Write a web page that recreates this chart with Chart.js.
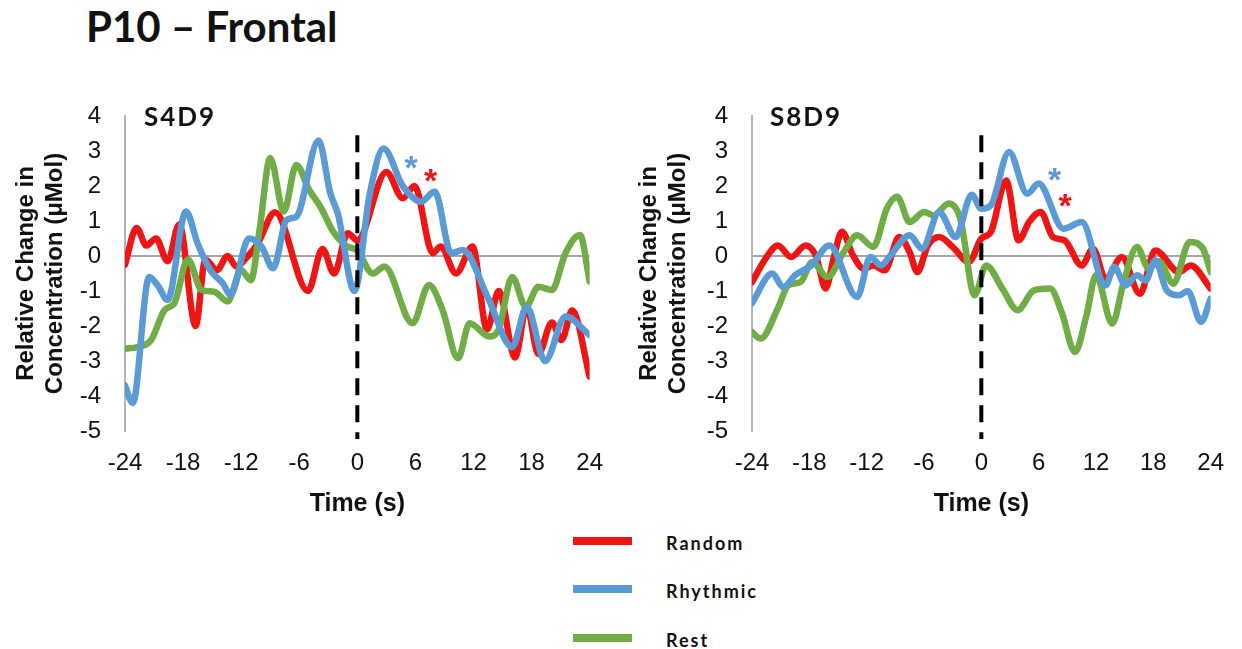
<!DOCTYPE html>
<html>
<head>
<meta charset="utf-8">
<title>P10 – Frontal</title>
<script src="https://cdn.jsdelivr.net/npm/chart.js@4.4.1/dist/chart.umd.min.js"></script>
<style>
  html, body { margin: 0; padding: 0; background: #fff; }
  #page { position: relative; width: 1242px; height: 649px; overflow: hidden; background: #fff; }
  #page canvas { position: absolute; top: 0; }
  #chartS4D9 { left: 0; }
  #chartS8D9 { left: 621px; }
  .heading { position: absolute; left: 86px; top: 5px; font: 700 42px Lato, sans-serif; line-height: 42px; color: #111; white-space: nowrap; }
  .channel { position: absolute; top: 103px; font: 700 26px Lato, sans-serif; line-height: 26px; letter-spacing: 2px; color: #111; white-space: nowrap; }
  .legend-row { position: absolute; left: 573px; height: 20px; }
  .legend-row .swatch { position: absolute; left: 0; width: 59px; height: 8px; }
  .legend-row .label { position: absolute; left: 93px; font: 700 18px Lato, sans-serif; line-height: 18px; letter-spacing: 2px; color: #111; white-space: nowrap; }
</style>
</head>
<body>
<div id="page">
  <div class="heading">P10 – Frontal</div>
  <canvas id="chartS4D9" width="621" height="530"></canvas>
  <canvas id="chartS8D9" width="621" height="530"></canvas>
  <div class="channel" style="left:144px">S4D9</div>
  <div class="channel" style="left:770px">S8D9</div>
  <div id="legend"></div>
</div>
<script>
// Time axis (s) and concentration axis (µMol) ticks
const timeTicks = [-24, -18, -12, -6, 0, 6, 12, 18, 24];
const valueTicks = [-5, -4, -3, -2, -1, 0, 1, 2, 3, 4];
const conditions = ['Random', 'Rhythmic', 'Rest'];

// Channel S4D9: [time (s), relative change (µMol)]
const s4d9Random = [[-24,-0.25],[-22.8,0.8],[-21.8,0.3],[-20.8,0.5],[-19.6,-0.15],[-18.4,0.9],[-16.7,-2.0],[-15.7,-0.1],[-14.5,-0.4],[-13.4,0.0],[-12.5,-0.3],[-11.3,0.0],[-10.3,0.35],[-8.5,1.25],[-5.1,-1.0],[-3.6,0.2],[-2.4,-0.5],[-1.0,0.65],[0,0.45],[3.0,2.4],[4.7,1.65],[5.9,2.0],[7.8,0.08],[8.6,0.27],[10.2,-0.5],[11.9,0.27],[13.4,-2.1],[14.6,-1.0],[16.3,-2.9],[17.5,-1.45],[18.7,-2.8],[20.1,-1.9],[21.1,-2.4],[22.2,-1.55],[24,-3.45]];
const s4d9Rhythmic = [[-24,-3.7],[-23.2,-4.2],[-21.5,-0.6],[-20.6,-0.85],[-19.6,-1.25],[-17.7,1.27],[-16.5,0.36],[-15.2,-0.4],[-13.9,-0.78],[-13.1,-1.1],[-11.2,0.5],[-9.9,0.27],[-8.7,-0.35],[-7.3,1.03],[-6.3,1.12],[-4.0,3.3],[-2.8,1.8],[-2.0,1.2],[-0.3,-1.0],[1.3,1.8],[2.7,3.07],[4.7,2.0],[6.6,1.55],[8.0,1.84],[9.7,0.08],[10.9,0.17],[13.5,-1.2],[16.0,-2.6],[17.5,-1.45],[19.4,-3.0],[21.5,-1.73],[24,-2.26]];
const s4d9Rest = [[-24,-2.65],[-22.7,-2.6],[-21.3,-2.4],[-19.9,-1.54],[-18.9,-1.35],[-17.5,-0.1],[-16.1,-0.97],[-14.8,-1.02],[-13.4,-1.3],[-12.0,-0.4],[-11.0,-0.69],[-10.1,0.74],[-9.0,2.8],[-7.6,1.27],[-6.3,2.6],[-5.0,1.9],[-3.8,1.4],[-2.5,0.7],[-1.2,0.3],[0,0.15],[1.6,-0.5],[2.8,-0.3],[5.7,-1.92],[7.4,-0.83],[8.8,-1.54],[10.4,-2.92],[11.6,-1.92],[13.6,-2.3],[14.6,-2.1],[16.0,-0.6],[17.4,-1.45],[18.7,-0.88],[20.1,-0.97],[21.5,0.08],[23.0,0.6],[24,-0.73]];

// Channel S8D9: [time (s), relative change (µMol)]
const s8d9Random = [[-24,-0.75],[-22.6,-0.08],[-21.3,0.3],[-19.9,-0.03],[-18.4,0.3],[-17.3,0.0],[-16.3,-0.93],[-15.4,0.0],[-14.6,0.69],[-13.4,0.0],[-12.3,-0.36],[-11.3,-0.27],[-10.1,-0.41],[-8.6,0.54],[-7.5,0.11],[-6.7,-0.46],[-5.6,0.3],[-4.4,0.54],[-3.0,0.26],[-1.3,-0.17],[0,0.5],[1.0,0.69],[2.6,2.16],[3.9,0.45],[5.0,0.97],[6.2,1.26],[7.5,0.54],[8.7,0.45],[10.5,-0.27],[11.7,0.21],[13.0,-0.65],[14.7,-0.03],[16.6,-1.08],[18.2,0.16],[20.7,-0.46],[21.9,-0.27],[24,-0.93]];
const s8d9Rhythmic = [[-24,-1.35],[-21.9,-0.5],[-20.7,-0.89],[-19.5,-0.55],[-17.8,-0.27],[-15.9,0.3],[-13.0,-1.17],[-11.6,-0.03],[-10.5,-0.27],[-9.5,0.02],[-7.5,0.59],[-6.2,0.21],[-4.4,1.26],[-2.7,0.54],[-1.0,1.75],[0,1.35],[1.0,1.45],[2.9,2.97],[4.8,1.78],[6.0,2.07],[8.6,0.78],[10.5,0.97],[13.0,-0.84],[13.9,-0.31],[15.1,-0.84],[16.3,-0.55],[17.2,-0.7],[18.2,-0.12],[19.4,-0.98],[20.7,-1.12],[21.6,-1.0],[23.0,-1.88],[24,-1.22]];
const s8d9Rest = [[-24,-2.17],[-23.1,-2.36],[-21.3,-1.5],[-20.2,-0.84],[-18.9,-0.74],[-17.7,-0.17],[-16.1,-0.6],[-14.4,0.11],[-13.0,0.59],[-11.3,0.26],[-9.9,1.35],[-8.8,1.69],[-7.5,0.97],[-6.0,1.26],[-5.0,1.16],[-3.4,1.5],[-2.2,1.07],[-0.7,-1.12],[0.5,-0.27],[2.2,-0.93],[3.8,-1.55],[5.5,-0.98],[7.2,-0.93],[8.4,-1.6],[9.8,-2.74],[11.0,-1.7],[12.0,-0.55],[13.7,-1.93],[14.9,-0.74],[16.3,0.26],[17.5,-0.36],[18.6,-0.15],[20.1,-0.79],[21.8,0.4],[23.2,0.21],[24,-0.46]];

// Significance markers: [time (s), value (µMol), condition]
const s4d9Significance = [[5.6, 2.66, 'Rhythmic'], [7.6, 2.31, 'Random']];
const s8d9Significance = [[7.7, 2.34, 'Rhythmic'], [8.8, 1.6, 'Random']];

const colors = { Random: '#EE1515', Rhythmic: '#5B9BD5', Rest: '#70AD47' };
const drawOrder = { Random: 2, Rest: 1, Rhythmic: 0 };
const tickFont = { family: "'Liberation Sans', Arial, sans-serif", size: 24 };
const titleFont = { family: "'Liberation Sans', Arial, sans-serif", size: 24, weight: 'bold', lineHeight: 1.2 };

// Dashed onset line at t = 0 and significance asterisks
const onsetPlugin = {
  id: 'onset',
  afterDatasetsDraw(chart, args, opts) {
    const { ctx, chartArea, scales: { x, y } } = chart;
    const px = x.getPixelForValue(0);
    ctx.save();
    ctx.strokeStyle = '#000';
    ctx.lineWidth = 4;
    ctx.setLineDash([17, 10]);
    ctx.beginPath();
    ctx.moveTo(px, y.getPixelForValue(opts.top));
    ctx.lineTo(px, chartArea.bottom + 8);
    ctx.stroke();
    ctx.setLineDash([]);
    ctx.font = "bold 34px 'Liberation Sans', Arial, sans-serif";
    ctx.textBaseline = 'alphabetic';
    for (const [t, v, cond] of opts.marks) {
      const m = ctx.measureText('*');
      const w = m.actualBoundingBoxRight + m.actualBoundingBoxLeft;
      const h = m.actualBoundingBoxAscent + m.actualBoundingBoxDescent;
      const cx = x.getPixelForValue(t), cy = y.getPixelForValue(v);
      ctx.fillStyle = colors[cond];
      ctx.fillText('*', cx - w / 2 + m.actualBoundingBoxLeft, cy + h / 2 - m.actualBoundingBoxDescent);
    }
    ctx.restore();
  }
};

function makeChart(id, series, marks, yWidth, padRight, titleOffset) {
  const datasets = conditions.map((cond, i) => ({
    label: cond,
    data: series[i].map(([t, v]) => ({ x: t, y: v })),
    borderColor: colors[cond],
    backgroundColor: colors[cond],
    borderWidth: 6.5,
    pointRadius: 0,
    cubicInterpolationMode: 'monotone',
    borderJoinStyle: 'round',
    borderCapStyle: 'round',
    fill: false,
    order: drawOrder[cond]
  }));
  return new Chart(document.getElementById(id), {
    type: 'line',
    data: { datasets },
    plugins: [onsetPlugin],
    options: {
      responsive: false,
      animation: false,
      events: [],
      layout: { padding: { top: 116, right: padRight, bottom: 0, left: 0 } },
      plugins: {
        legend: { display: false },
        tooltip: { enabled: false },
        onset: { top: 3.45, marks }
      },
      scales: {
        x: {
          type: 'linear',
          min: -24, max: 24,
          afterBuildTicks: (s) => { s.ticks = timeTicks.map(v => ({ value: v })); },
          afterFit: (s) => { s.height = 99; },
          grid: { display: false, drawTicks: false },
          border: { display: false },
          ticks: { font: tickFont, color: '#111', padding: 18, maxRotation: 0, autoSkip: false },
          title: { display: true, text: 'Time (s)', font: { ...titleFont, size: 25 }, color: '#111', padding: { top: 0, bottom: 11 } }
        },
        y: {
          type: 'linear',
          min: -5, max: 4,
          afterBuildTicks: (s) => { s.ticks = valueTicks.map(v => ({ value: v })); },
          afterFit: (s) => { s.width = yWidth; },
          grid: {
            drawTicks: false,
            lineWidth: 2,
            color: (c) => (c.tick && c.tick.value === 0 ? '#A6A6A6' : 'rgba(0,0,0,0)')
          },
          border: { display: true, color: '#B4B4B4', width: 2 },
          ticks: { font: tickFont, color: '#111', padding: 24, autoSkip: false },
          title: { display: true, text: ['Relative Change in', 'Concentration (μMol)'], font: titleFont, color: '#111', padding: { top: titleOffset, bottom: 0 } }
        }
      }
    }
  });
}

makeChart('chartS4D9', [s4d9Random, s4d9Rhythmic, s4d9Rest], s4d9Significance, 125, 27, 12);
makeChart('chartS8D9', [s8d9Random, s8d9Rhythmic, s8d9Rest], s8d9Significance, 131, 24, 14);

// Shared legend below the two panels
const legendTops = [541, 589, 638];
const legend = document.getElementById('legend');
conditions.forEach((cond, i) => {
  const row = document.createElement('div');
  row.className = 'legend-row';
  row.style.top = (legendTops[i] - 4) + 'px';
  const sw = document.createElement('div');
  sw.className = 'swatch';
  sw.style.background = colors[cond];
  const lb = document.createElement('div');
  lb.className = 'label';
  lb.style.top = '-3px';
  lb.textContent = cond;
  row.appendChild(sw);
  row.appendChild(lb);
  legend.appendChild(row);
});
</script>
</body>
</html>
